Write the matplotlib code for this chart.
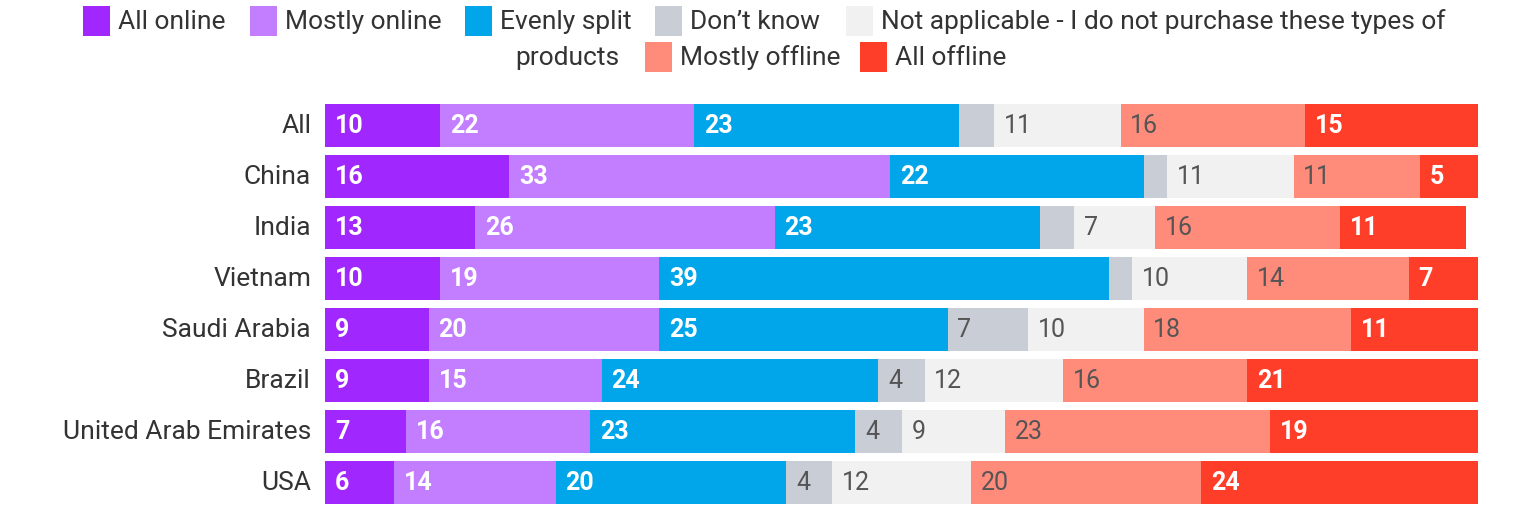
import numpy as np
import matplotlib
matplotlib.use("Agg")
import matplotlib.pyplot as plt
from matplotlib.patches import Rectangle

countries = ["All", "China", "India", "Vietnam", "Saudi Arabia", "Brazil",
             "United Arab Emirates", "USA"]
series_names = ["All online", "Mostly online", "Evenly split", "Don\u2019t know",
                "Not applicable - I do not purchase these types of products",
                "Mostly offline", "All offline"]

all_online = [10, 16, 13, 10, 9, 9, 7, 6]
mostly_online = [22, 33, 26, 19, 20, 15, 16, 14]
evenly_split = [23, 22, 23, 39, 25, 24, 23, 20]
dont_know = [3, 2, 3, 2, 7, 4, 4, 4]
not_applicable = [11, 11, 7, 10, 10, 12, 9, 12]
mostly_offline = [16, 11, 16, 14, 18, 16, 23, 20]
all_offline = [15, 5, 11, 7, 11, 21, 19, 24]

colors = ["#A127FF", "#C27EFF", "#00A5EA", "#C9CDD6", "#F1F1F1", "#FF8B7B", "#FF3E2A"]
label_colors = ["white", "white", "white", "#555555", "#555555", "#555555", "white"]
label_weights = ["semibold", "semibold", "semibold", "normal", "normal", "normal", "semibold"]

plt.rcParams['font.family'] = ['Roboto', 'DejaVu Sans']

W, H = 1523, 506
fig = plt.figure(figsize=(W / 100, H / 100), dpi=100)
ax = fig.add_axes([325 / W, -3 / H, 1153 / W, 408 / H])

data = [all_online, mostly_online, evenly_split, dont_know, not_applicable,
        mostly_offline, all_offline]
y = np.arange(len(countries))
left = np.zeros(len(countries))
for i, vals in enumerate(data):
    vals = np.array(vals)
    ax.barh(y, vals, left=left, height=0.84, color=colors[i], linewidth=0)
    for j, v in enumerate(vals):
        if v >= 4:
            ax.text(left[j] + 0.85, y[j], str(v), va="center", ha="left",
                    fontsize=18, color=label_colors[i], fontweight=label_weights[i])
    left += vals

ax.set_xlim(0, 100)
ax.set_ylim(len(countries) - 0.5, -0.5)
ax.set_yticks(y)
ax.set_yticklabels(countries, fontsize=19, color="#333333", va="center")
ax.tick_params(axis="y", length=0, pad=10)
ax.set_xticks([])
for s in ax.spines.values():
    s.set_visible(False)

# legend drawn by hand so the long entry wraps like the original
def px(x, yy):
    return x / W, 1 - yy / H

legend_items = [
    (83, 22, 0, "All online"),
    (250, 22, 1, "Mostly online"),
    (465, 22, 2, "Evenly split"),
    (655, 22, 3, "Don\u2019t know"),
    (846, 22, 4, "Not applicable - I do not purchase these types of"),
    (645, 58, 5, "Mostly offline"),
    (860, 58, 6, "All offline"),
]
for x0, yc, ci, txt in legend_items:
    fx, fy = px(x0, yc + 15)
    fig.patches.append(Rectangle((fx, fy), 27 / W, 30 / H, transform=fig.transFigure,
                                 facecolor=colors[ci], edgecolor="none"))
    tx, ty = px(x0 + 35, yc)
    fig.text(tx, ty, txt, fontsize=19, color="#333333", va="center", ha="left")
tx, ty = px(515, 58)
fig.text(tx, ty, "products", fontsize=19, color="#333333", va="center", ha="left")

fig.savefig("out.png", dpi=100, facecolor="white")
